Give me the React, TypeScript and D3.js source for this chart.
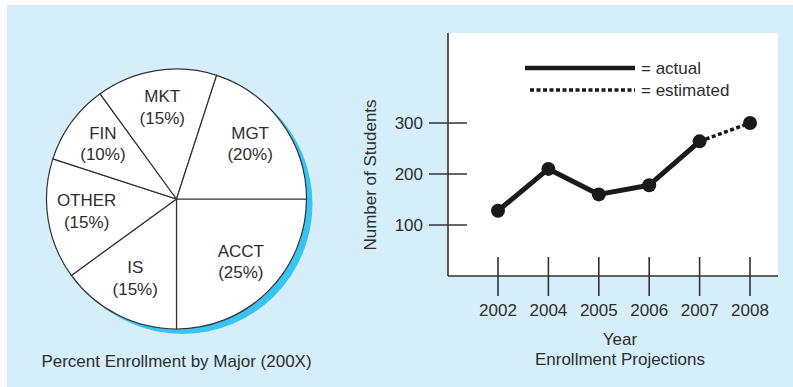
import React from "react";
import * as d3 from "d3";

// ---- Data ----
const majors = ["ACCT", "IS", "OTHER", "FIN", "MKT", "MGT"];
const majorShares = [25, 15, 15, 10, 15, 20];

const years = ["2002", "2004", "2005", "2006", "2007", "2008"];
const enrollment = [128, 210, 160, 178, 264, 300];
const estimatedFrom = "2007"; // actual up to 2007, estimated after
const yTicks = [100, 200, 300];

const pieCaption = "Percent Enrollment by Major (200X)";
const lineTitle = "Enrollment Projections";
const xLabel = "Year";
const yLabel = "Number of Students";
const legendLabels = ["= actual", "= estimated"];

const W = 793;
const H = 387;
const FONT = "'Liberation Sans', Arial, Helvetica, sans-serif";
const TEXT = "#2e2e2e";
const BG = "#d5eefa";
const SHADOW = "#38c4f0";

export default function App() {
  // Pie
  const cx = 176.5;
  const cy = 199;
  const R = 130;
  const pieGen = d3
    .pie<number>()
    .sort(null)
    .value((d) => d)
    .startAngle(Math.PI / 2)
    .endAngle(Math.PI / 2 + 2 * Math.PI);
  const arcs = pieGen(majorShares);
  const arcGen = d3.arc<d3.PieArcDatum<number>>().innerRadius(0).outerRadius(R);
  const labelArc = d3
    .arc<d3.PieArcDatum<number>>()
    .innerRadius(R * 0.7)
    .outerRadius(R * 0.7);

  // Line chart
  const plotLeft = 448;
  const plotRight = 778;
  const plotTop = 33;
  const plotBottom = 276;
  const x = d3.scalePoint<string>().domain(years).range([498, 750]);
  const y = d3.scaleLinear().domain([0, 300]).range([plotBottom, 123]);
  const pts = years.map((yr, i) => ({ yr, v: enrollment[i] }));
  const splitIdx = years.indexOf(estimatedFrom);
  const actualPts = pts.slice(0, splitIdx + 1);
  const estPts = pts.slice(splitIdx);
  const lineGen = d3
    .line<{ yr: string; v: number }>()
    .x((d) => x(d.yr) as number)
    .y((d) => y(d.v));

  return (
    <svg
      width={W}
      height={H}
      style={{ position: "absolute", left: 0, top: 0, display: "block" }}
      fontFamily={FONT}
    >
      <rect x={0} y={0} width={W} height={H} fill="#ffffff" />
      <rect x={7} y={5} width={W - 7} height={H - 5} fill={BG} />

      {/* Pie */}
      <circle cx={cx + 6} cy={cy + 5} r={R} fill={SHADOW} />
      <g transform={`translate(${cx},${cy})`}>
        {arcs.map((a, i) => (
          <path
            key={i}
            d={arcGen(a) as string}
            fill="#ffffff"
            stroke="#333"
            strokeWidth={1.2}
          />
        ))}
        {arcs.map((a, i) => {
          const [lx, ly] = labelArc.centroid(a);
          return (
            <text
              key={"l" + i}
              x={lx}
              y={ly}
              textAnchor="middle"
              fontSize={17}
              fill={TEXT}
            >
              <tspan x={lx} dy="-0.4em">
                {majors[i]}
              </tspan>
              <tspan x={lx} dy="1.27em">
                ({majorShares[i]}%)
              </tspan>
            </text>
          );
        })}
      </g>
      <text x={cx} y={367} textAnchor="middle" fontSize={17} fill={TEXT}>
        {pieCaption}
      </text>

      {/* Line chart */}
      <rect
        x={plotLeft}
        y={plotTop}
        width={plotRight - plotLeft}
        height={plotBottom - plotTop}
        fill="#ffffff"
      />
      <line x1={plotLeft} x2={plotLeft} y1={plotTop} y2={plotBottom} stroke="#333" strokeWidth={1.6} />
      <line x1={plotLeft} x2={plotRight} y1={plotBottom} y2={plotBottom} stroke="#333" strokeWidth={1.6} />
      {yTicks.map((t) => (
        <g key={t}>
          <line x1={429} x2={467} y1={y(t)} y2={y(t)} stroke="#333" strokeWidth={1.6} />
          <text x={423} y={y(t)} dy="0.35em" textAnchor="end" fontSize={17} fill={TEXT}>
            {t}
          </text>
        </g>
      ))}
      {years.map((yr) => (
        <g key={yr}>
          <line
            x1={x(yr)}
            x2={x(yr)}
            y1={plotBottom - 19}
            y2={plotBottom + 20}
            stroke="#333"
            strokeWidth={1.6}
          />
          <text x={x(yr)} y={plotBottom + 40} textAnchor="middle" fontSize={17} fill={TEXT}>
            {yr}
          </text>
        </g>
      ))}
      <text x={620} y={345} textAnchor="middle" fontSize={17} fill={TEXT}>
        {xLabel}
      </text>
      <text x={620} y={365} textAnchor="middle" fontSize={17} fill={TEXT}>
        {lineTitle}
      </text>
      <text
        transform={`translate(376,175) rotate(-90)`}
        textAnchor="middle"
        fontSize={17}
        fill={TEXT}
      >
        {yLabel}
      </text>

      {/* Legend */}
      <line x1={525} x2={635} y1={68} y2={68} stroke="#1a1a1a" strokeWidth={4.5} />
      <text x={641} y={74} fontSize={17} fill={TEXT}>
        {legendLabels[0]}
      </text>
      <line
        x1={530}
        x2={635}
        y1={90}
        y2={90}
        stroke="#1a1a1a"
        strokeWidth={3.5}
        strokeDasharray="4,2.5"
      />
      <text x={641} y={96} fontSize={17} fill={TEXT}>
        {legendLabels[1]}
      </text>

      {/* Series */}
      <path
        d={lineGen(actualPts) as string}
        fill="none"
        stroke="#1a1a1a"
        strokeWidth={5}
        strokeLinejoin="round"
      />
      <path
        d={lineGen(estPts) as string}
        fill="none"
        stroke="#1a1a1a"
        strokeWidth={3.5}
        strokeDasharray="4,2.5"
      />
      {pts.map((p) => (
        <circle key={p.yr} cx={x(p.yr)} cy={y(p.v)} r={7} fill="#1a1a1a" />
      ))}
    </svg>
  );
}
